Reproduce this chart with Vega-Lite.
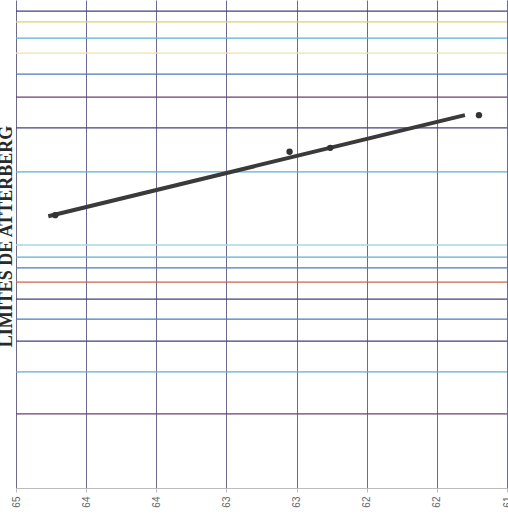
{
  "$schema": "https://vega.github.io/schema/vega-lite/v6.json",
  "width": 491,
  "height": 488,
  "autosize": {"type": "none"},
  "padding": {"left": 16, "top": 0, "right": 1, "bottom": 34},
  "background": "white",
  "config": {"view": {"stroke": null}},
  "layer": [
    {
      "data": {"values": [
        {"golpes": 97.7, "tipo": "navy"},
        {"golpes": 95.5, "tipo": "yellow"},
        {"golpes": 92.2, "tipo": "teal"},
        {"golpes": 89.1, "tipo": "paleyellow"},
        {"golpes": 84.8, "tipo": "blue"},
        {"golpes": 80.1, "tipo": "purple"},
        {"golpes": 73.8, "tipo": "navy"},
        {"golpes": 64.8, "tipo": "teal"},
        {"golpes": 49.8, "tipo": "paleteal"},
        {"golpes": 47.3, "tipo": "teal"},
        {"golpes": 45.1, "tipo": "blue"},
        {"golpes": 42.2, "tipo": "red"},
        {"golpes": 38.7, "tipo": "navy"},
        {"golpes": 34.6, "tipo": "blue"},
        {"golpes": 30.1, "tipo": "navy"},
        {"golpes": 23.8, "tipo": "teal"},
        {"golpes": 15.2, "tipo": "purple"}
      ]},
      "mark": {"type": "rule", "strokeWidth": 1.3},
      "encoding": {
        "y": {"field": "golpes", "type": "quantitative", "scale": {"domain": [0, 100]},
          "axis": {"labels": false, "ticks": false, "domain": false, "grid": false, "title": "LIMITES DE ATTERBERG", "titleFont": "Liberation Serif", "titleFontSize": 18, "titleFontWeight": "bold", "titleColor": "#2a2a2a", "titlePadding": 1, "titleY": 236}},
        "color": {"field": "tipo", "type": "nominal", "legend": null,
          "scale": {"domain": ["navy", "yellow", "teal", "paleyellow", "blue", "purple", "paleteal", "red"],
                    "range": ["#45407e", "#e4cf6a", "#5cb0cf", "#efe4a8", "#4d78b8", "#6b3f6e", "#a8d6e6", "#c8664a"]}}
      }
    },
    {
      "data": {"values": [
        {"humedad": 64.77, "golpes": 55.7},
        {"humedad": 61.8, "golpes": 76.4}
      ]},
      "mark": {"type": "line", "color": "#3a3a3a", "strokeWidth": 4},
      "encoding": {
        "x": {"field": "humedad", "type": "quantitative", "scale": {"domain": [61.5, 65], "reverse": true, "nice": false, "zero": false},
          "axis": {"values": [65, 64.5, 64, 63.5, 63, 62.5, 62, 61.5], "labelExpr": "floor(datum.value)", "labelAngle": -90, "labelFontSize": 10, "labelColor": "#666666", "labelFont": "Liberation Sans", "labelPadding": 4, "title": null, "grid": true, "gridColor": "#6c6a8a", "gridWidth": 1, "domainColor": "#bbbbbb", "tickColor": "#bbbbbb", "tickSize": 4}},
        "y": {"field": "golpes", "type": "quantitative", "scale": {"domain": [0, 100]},
          "axis": {"labels": false, "ticks": false, "domain": false, "grid": false, "title": "LIMITES DE ATTERBERG", "titleFont": "Liberation Serif", "titleFontSize": 18, "titleFontWeight": "bold", "titleColor": "#2a2a2a", "titlePadding": 1, "titleY": 236}}
      }
    },
    {
      "data": {"values": [
        {"humedad": 64.72, "golpes": 55.9},
        {"humedad": 63.05, "golpes": 68.9},
        {"humedad": 62.76, "golpes": 69.7},
        {"humedad": 61.7, "golpes": 76.4}
      ]},
      "mark": {"type": "point", "filled": true, "color": "#333333", "size": 40, "opacity": 1},
      "encoding": {
        "x": {"field": "humedad", "type": "quantitative", "scale": {"domain": [61.5, 65], "reverse": true, "nice": false, "zero": false},
          "axis": {"values": [65, 64.5, 64, 63.5, 63, 62.5, 62, 61.5], "labelExpr": "floor(datum.value)", "labelAngle": -90, "labelFontSize": 10, "labelColor": "#666666", "labelFont": "Liberation Sans", "labelPadding": 4, "title": null, "grid": true, "gridColor": "#6c6a8a", "gridWidth": 1, "domainColor": "#bbbbbb", "tickColor": "#bbbbbb", "tickSize": 4}},
        "y": {"field": "golpes", "type": "quantitative", "scale": {"domain": [0, 100]},
          "axis": {"labels": false, "ticks": false, "domain": false, "grid": false, "title": "LIMITES DE ATTERBERG", "titleFont": "Liberation Serif", "titleFontSize": 18, "titleFontWeight": "bold", "titleColor": "#2a2a2a", "titlePadding": 1, "titleY": 236}}
      }
    }
  ]
}
